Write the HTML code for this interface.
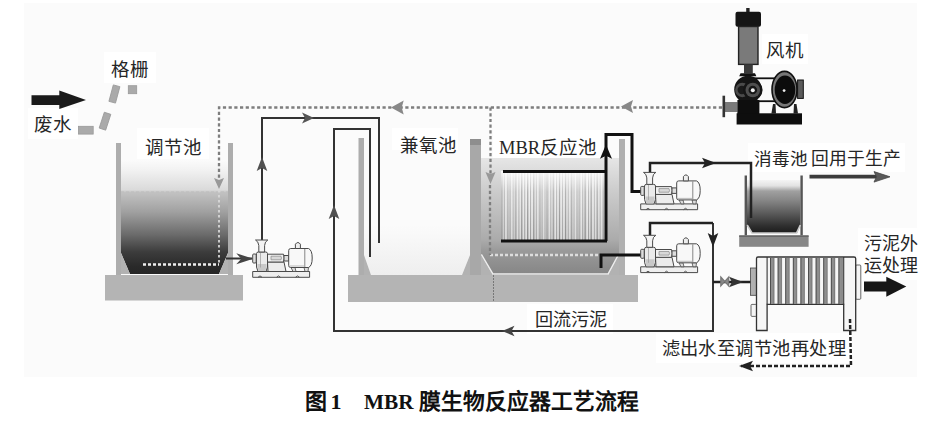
<!DOCTYPE html>
<html lang="zh-CN"><head><meta charset="utf-8">
<style>
html,body{margin:0;padding:0;background:#fff;}
body{width:932px;height:422px;overflow:hidden;}
svg{display:block;}
text{font-family:"Liberation Serif",serif;font-size:18.5px;fill:#262626;}
.cap{font-family:"Liberation Sans",sans-serif;font-weight:bold;font-size:22px;fill:#111;}
.capm{font-family:"Liberation Serif",serif;font-weight:bold;font-size:22px;fill:#111;}
</style></head><body>
<svg width="932" height="422" viewBox="0 0 932 422">
<defs>
 <linearGradient id="gT1" gradientUnits="userSpaceOnUse" x1="0" y1="160" x2="0" y2="274">
  <stop offset="0" stop-color="#fbfbfb"/>
  <stop offset="0.088" stop-color="#f2f2f2"/>
  <stop offset="0.175" stop-color="#e6e6e6"/>
  <stop offset="0.263" stop-color="#dadada"/>
  <stop offset="0.285" stop-color="#c2c2c2"/>
  <stop offset="0.456" stop-color="#a0a0a0"/>
  <stop offset="0.658" stop-color="#6a6a6a"/>
  <stop offset="0.807" stop-color="#3c3c3c"/>
  <stop offset="0.93" stop-color="#2a2a2a"/>
  <stop offset="1" stop-color="#262626"/>
 </linearGradient>
 <linearGradient id="gMBR" gradientUnits="userSpaceOnUse" x1="0" y1="158" x2="0" y2="275">
  <stop offset="0" stop-color="#e6e6e6"/>
  <stop offset="0.27" stop-color="#cdcdcd"/>
  <stop offset="0.7" stop-color="#ababab"/>
  <stop offset="0.79" stop-color="#9a9a9a"/>
  <stop offset="1" stop-color="#858585"/>
 </linearGradient>
 <linearGradient id="gXD" gradientUnits="userSpaceOnUse" x1="0" y1="180" x2="0" y2="233">
  <stop offset="0" stop-color="#f4f4f4"/>
  <stop offset="0.11" stop-color="#e2e2e2"/>
  <stop offset="0.21" stop-color="#a0a0a0"/>
  <stop offset="0.38" stop-color="#878787"/>
  <stop offset="0.66" stop-color="#555"/>
  <stop offset="0.87" stop-color="#2e2e2e"/>
  <stop offset="1" stop-color="#1c1c1c"/>
 </linearGradient>
 <linearGradient id="gJY" gradientUnits="userSpaceOnUse" x1="0" y1="225" x2="0" y2="275">
  <stop offset="0" stop-color="#fbfbfb"/>
  <stop offset="1" stop-color="#eeeeee"/>
 </linearGradient>
 <linearGradient id="gMem" x1="0" y1="0" x2="0" y2="1">
  <stop offset="0" stop-color="#fff" stop-opacity="0.9"/>
  <stop offset="0.3" stop-color="#fff" stop-opacity="0.3"/>
  <stop offset="1" stop-color="#fff" stop-opacity="0"/>
 </linearGradient>
 <linearGradient id="gSil" x1="0" y1="0" x2="1" y2="0">
  <stop offset="0" stop-color="#444"/>
  <stop offset="0.5" stop-color="#777"/>
  <stop offset="1" stop-color="#3a3a3a"/>
 </linearGradient>
 <pattern id="pStripe" x="501" y="0" width="2.9" height="10" patternUnits="userSpaceOnUse">
  <rect x="0" y="0" width="2.9" height="10" fill="#f2f2f2"/>
  <rect x="0" y="0" width="1.1" height="10" fill="#a8a8a8"/>
 </pattern>
 <pattern id="pStripe2" x="502" y="0" width="6.3" height="10" patternUnits="userSpaceOnUse">
  <rect x="0" y="0" width="1.3" height="10" fill="#777" fill-opacity="0.45"/>
 </pattern>
 <linearGradient id="gMemD" x1="0" y1="0" x2="0" y2="1">
  <stop offset="0" stop-color="#000" stop-opacity="0"/>
  <stop offset="1" stop-color="#000" stop-opacity="0.08"/>
 </linearGradient>
</defs>

<rect x="24" y="3" width="893" height="374" fill="#fbfbfb"/>
<rect x="104" y="52" width="52" height="31" fill="#fff"/>
<rect x="28" y="108" width="50" height="31" fill="#fff"/>
<rect x="137" y="128" width="72" height="31" fill="#fff"/>
<rect x="392" y="128" width="66" height="32" fill="#fff"/>
<rect x="493" y="130" width="108" height="31" fill="#fff"/>
<rect x="762" y="34" width="46" height="30" fill="#fff"/>
<rect x="748" y="143" width="157" height="29" fill="#fff"/>
<rect x="858" y="228" width="62" height="52" fill="#fff"/>
<rect x="527" y="304" width="86" height="30" fill="#fff"/>
<rect x="656" y="333" width="196" height="30" fill="#fff"/>
<polygon points="121,160 228,160 228,253 219,274 130,274 121,253" fill="url(#gT1)"/>
<line x1="121" y1="192" x2="228" y2="192" stroke="#bdbdbd" stroke-width="1" stroke-dasharray="3 2"/>
<rect x="116" y="143" width="5" height="133" fill="#adadad"/>
<rect x="228" y="143" width="5" height="133" fill="#adadad"/>
<polygon points="121,253 130,274 121,274" fill="#b2b2b2"/>
<polygon points="228,253 219,274 228,274" fill="#b2b2b2"/>
<rect x="105" y="275" width="138" height="25.5" fill="#b4b4b4"/>
<polyline points="143,264.5 219,264.5" fill="none" stroke="#eee" stroke-width="2.5" stroke-dasharray="3 2"/>
<line x1="219" y1="190" x2="219" y2="263" stroke="#d8d8d8" stroke-width="1.8" stroke-dasharray="2.5 2.5"/>
<polygon points="364,150 470,150 470,255 462,275 371,275 364,255" fill="#fbfbfb"/>
<polygon points="364,225 470,225 470,255 462,275 371,275 364,255" fill="url(#gJY)"/>
<polygon points="481,158 619,158 619,254 608,275 493,275 481,254" fill="url(#gMBR)"/>
<rect x="358.5" y="138" width="5.5" height="140" fill="#adadad"/>
<rect x="470" y="139" width="11" height="139" fill="#a8a8a8"/>
<rect x="470" y="139" width="11" height="6" fill="#8e8e8e"/>
<rect x="619" y="139" width="6" height="139" fill="#b0b0b0"/>
<polygon points="364,255 371,275 364,275" fill="#b2b2b2"/>
<polygon points="470,255 462,275 470,275" fill="#b2b2b2"/>
<polygon points="481,254 493,275 481,275" fill="#b2b2b2"/>
<polygon points="619,254 608,275 619,275" fill="#b2b2b2"/>
<rect x="348" y="275" width="290" height="27" fill="#b4b4b4"/>
<line x1="493.5" y1="275" x2="493.5" y2="302" stroke="#777" stroke-width="1" stroke-dasharray="2 1"/>
<line x1="490" y1="255" x2="599" y2="255" stroke="#ddd" stroke-width="2.5" stroke-dasharray="3 2"/>
<polyline points="481.5,254.5 493,274 608,274 618.5,254.5" fill="none" stroke="#eee" stroke-width="1.4"/>
<rect x="501" y="171" width="105" height="70" fill="url(#pStripe)"/>
<rect x="501" y="171" width="105" height="70" fill="url(#pStripe2)"/>
<rect x="501" y="171" width="105" height="70" fill="url(#gMem)"/>
<rect x="501" y="171" width="105" height="70" fill="url(#gMemD)"/>
<line x1="503" y1="171.5" x2="606" y2="171.5" stroke="#111" stroke-width="3"/>
<line x1="501" y1="241" x2="607" y2="241" stroke="#111" stroke-width="3"/>
<polygon points="747,180 800.5,180 800.5,225 797,233 752,233 747,225" fill="url(#gXD)"/>
<rect x="744.6" y="175.5" width="2.4" height="60" fill="#555"/>
<rect x="800.4" y="175.5" width="2.4" height="60" fill="#555"/>
<polyline points="747.2,225 752,233 796.5,233 800.3,225" fill="none" stroke="#ccc" stroke-width="1.6"/>
<rect x="739.2" y="235.4" width="69.4" height="11.4" fill="#878787"/>
<rect x="739.2" y="235.4" width="69.4" height="1.6" fill="#666"/>
<g fill="none" stroke="#333" stroke-width="2">
 <polyline points="262,240 262,118 379,118 379,243"/>
 <polyline points="713,223 713,331 334,331 334,129 370,129 370,257"/>
 <line x1="226" y1="258.5" x2="252" y2="258.5"/>
</g>
<g fill="none" stroke="#111" stroke-width="3">
 <polyline points="606,241 606,134.5 632,134.5 632,191.5 643,191.5"/>
 <polyline points="601,268 601,255 641,255"/>
</g>
<g fill="none" stroke="#222" stroke-width="2.5">
 <polyline points="650,172.5 650,163 751,163 751,218"/>
 <polyline points="650,235.5 650,223 713,223"/>
 <polyline points="713,282 751,282"/>
</g>
<g fill="none" stroke="#7e7e7e" stroke-width="2.3" stroke-dasharray="3.2 2.5">
 <polyline points="722,107.5 219,107.5 219,180"/>
 <line x1="490.5" y1="107.5" x2="490.5" y2="175"/>
 <line x1="490" y1="185" x2="490" y2="255"/>
</g>

<path d="M262.0,157.0 L267.3,171.0 L262.0,168.0 L256.7,171.0 Z" fill="#505050"/>
<path d="M314.0,118.0 L302.0,123.5 L305.0,118.0 L302.0,112.5 Z" fill="#555"/>
<path d="M334.0,205.0 L339.3,219.0 L334.0,216.0 L328.7,219.0 Z" fill="#505050"/>
<path d="M502.0,331.0 L514.5,325.8 L511.5,331.0 L514.5,336.2 Z" fill="#444"/>
<path d="M606.0,144.5 L612.0,158.8 L606.0,155.8 L600.0,158.8 Z" fill="#111"/>
<path d="M716.0,163.0 L702.0,168.3 L705.0,163.0 L702.0,157.7 Z" fill="#222"/>
<path d="M713.0,247.0 L707.7,233.0 L713.0,236.0 L718.3,233.0 Z" fill="#222"/>
<path d="M743.0,282.0 L729.0,287.3 L732.0,282.0 L729.0,276.7 Z" fill="#333"/>
<path d="M739.0,366.0 L753.0,360.7 L750.0,366.0 L753.0,371.3 Z" fill="#222"/>
<path d="M253.3,258.8 L236.3,264.3 L241.3,258.8 L236.3,253.3 Z" fill="#444"/>
<path d="M391.0,107.4 L403.7,100.4 L401.7,107.4 L403.7,114.4 Z" fill="#888"/>
<path d="M621.0,106.6 L633.0,100.1 L631.0,106.6 L633.0,113.1 Z" fill="#888"/>
<path d="M219.0,189.0 L214.0,178.0 L219.0,180.0 L224.0,178.0 Z" fill="#999"/>
<path d="M490.5,184.0 L485.5,172.0 L490.5,174.0 L495.5,172.0 Z" fill="#999"/>
<line x1="809.5" y1="176.6" x2="877" y2="176.6" stroke="#3c3c3c" stroke-width="3.6"/>
<path d="M890.0,176.8 L874.0,182.1 L876.5,176.8 L874.0,171.6 Z" fill="#5a5a5a" stroke="#444" stroke-width="0.8" stroke-linejoin="round"/>
<path d="M31.5,95.2 L59.3,95.2 L59.3,90.4 L86,100 L59.3,109 L59.3,105.1 L31.5,105.1 Z" fill="#1a1a1a"/>
<path d="M864,281.6 L886.3,281.6 L886.3,276.8 L906.3,286.6 L886.3,296.8 L886.3,291.5 L864,291.5 Z" fill="#161616"/>
<rect x="78.5" y="126.3" width="14.7" height="7.8" fill="#aaa" stroke="#999" stroke-width="0.8"/>
<rect x="-3.4" y="-8.3" width="6.8" height="16.6" fill="#aaa" stroke="#999" stroke-width="0.8" transform="translate(105,121.2) rotate(18)"/>
<rect x="-3.4" y="-8.5" width="6.8" height="17" fill="#aaa" stroke="#999" stroke-width="0.8" transform="translate(114.4,94) rotate(15)"/>
<rect x="128.3" y="85.7" width="8.4" height="8" fill="#aaa" stroke="#999" stroke-width="0.8"/>
<g transform="translate(262,240)" fill="#f7f7f7" stroke="#4a4a4a" stroke-width="1" stroke-linejoin="round"><path d="M-9.3,31.5 L47.6,31.5 L47.6,37.3 L-9.3,37.3 Z" fill="#efefef"/><path d="M-4,37.3 Q-2,34.5 0,37.3 M14.5,37.3 Q16.5,34.5 18.5,37.3 M33.5,37.3 Q35.5,34.5 37.5,37.3" fill="none" stroke="#555"/><path d="M29,27.5 L31,31.5 L34,31.5 L33,27.5 Z M42,27.5 L43,31.5 L46,31.5 L46.5,27.5 Z" fill="#ddd" stroke-width="0.8"/><path d="M5.5,22 L22,22 L24,31.5 L6,31.5 Z" fill="#ececec"/><path d="M5.5,14.2 L21.5,14.2 Q23,18 21.5,22 L5.5,22 Z" fill="#f0f0f0"/><path d="M9,16.2 L19,16.2 Q20,18 19,19.8 L9,19.8 Z" fill="#d8d8d8" stroke="#888" stroke-width="0.7"/><rect x="22" y="15.5" width="4.8" height="5.5" fill="#ddd"/><path d="M26.7,10.5 Q26.7,8.5 28.7,8.5 L46.5,8.5 Q50.2,10 50.2,18 Q50.2,26 46.5,27.5 L28.7,27.5 Q26.7,27.5 26.7,25.5 Z" fill="#f8f8f8"/><line x1="42.8" y1="9" x2="42.8" y2="27" stroke="#777" stroke-width="0.9"/><line x1="27.5" y1="26" x2="42.5" y2="26" stroke="#aaa" stroke-width="0.8"/><path d="M33.4,8.5 L33.4,4.2 Q35.9,0.8 38.4,4.2 L38.4,8.5 Z" fill="#eee"/><path d="M-5.5,13.5 Q-5.5,12 -3.5,12 L3.5,12 Q5.5,12 5.5,13.5 L5.5,27 L4,31.5 L-4,31.5 L-5.5,27 Z" fill="#eaeaea"/><path d="M-4.5,24 L4.5,24 L4.5,27 L3.4,31 L-3.4,31 L-4.5,27 Z" fill="#c8c8c8" stroke="none"/><line x1="-1.5" y1="12.5" x2="-1.5" y2="27.5" stroke="#999" stroke-width="0.7"/><path d="M-6.5,0 L5.8,0 Q2.8,1.5 2.6,5.5 L2.6,12 L-3.2,12 L-3.2,5.5 Q-3.5,1.5 -6.5,0 Z" fill="#f3f3f3"/><rect x="-9.3" y="14" width="3.5" height="9" rx="1" fill="#ddd"/></g>
<g transform="translate(650,172.4)" fill="#f7f7f7" stroke="#4a4a4a" stroke-width="1" stroke-linejoin="round"><path d="M-9.3,31.5 L47.6,31.5 L47.6,37.3 L-9.3,37.3 Z" fill="#efefef"/><path d="M-4,37.3 Q-2,34.5 0,37.3 M14.5,37.3 Q16.5,34.5 18.5,37.3 M33.5,37.3 Q35.5,34.5 37.5,37.3" fill="none" stroke="#555"/><path d="M29,27.5 L31,31.5 L34,31.5 L33,27.5 Z M42,27.5 L43,31.5 L46,31.5 L46.5,27.5 Z" fill="#ddd" stroke-width="0.8"/><path d="M5.5,22 L22,22 L24,31.5 L6,31.5 Z" fill="#ececec"/><path d="M5.5,14.2 L21.5,14.2 Q23,18 21.5,22 L5.5,22 Z" fill="#f0f0f0"/><path d="M9,16.2 L19,16.2 Q20,18 19,19.8 L9,19.8 Z" fill="#d8d8d8" stroke="#888" stroke-width="0.7"/><rect x="22" y="15.5" width="4.8" height="5.5" fill="#ddd"/><path d="M26.7,10.5 Q26.7,8.5 28.7,8.5 L46.5,8.5 Q50.2,10 50.2,18 Q50.2,26 46.5,27.5 L28.7,27.5 Q26.7,27.5 26.7,25.5 Z" fill="#f8f8f8"/><line x1="42.8" y1="9" x2="42.8" y2="27" stroke="#777" stroke-width="0.9"/><line x1="27.5" y1="26" x2="42.5" y2="26" stroke="#aaa" stroke-width="0.8"/><path d="M33.4,8.5 L33.4,4.2 Q35.9,0.8 38.4,4.2 L38.4,8.5 Z" fill="#eee"/><path d="M-5.5,13.5 Q-5.5,12 -3.5,12 L3.5,12 Q5.5,12 5.5,13.5 L5.5,27 L4,31.5 L-4,31.5 L-5.5,27 Z" fill="#eaeaea"/><path d="M-4.5,24 L4.5,24 L4.5,27 L3.4,31 L-3.4,31 L-4.5,27 Z" fill="#c8c8c8" stroke="none"/><line x1="-1.5" y1="12.5" x2="-1.5" y2="27.5" stroke="#999" stroke-width="0.7"/><path d="M-6.5,0 L5.8,0 Q2.8,1.5 2.6,5.5 L2.6,12 L-3.2,12 L-3.2,5.5 Q-3.5,1.5 -6.5,0 Z" fill="#f3f3f3"/><rect x="-9.3" y="14" width="3.5" height="9" rx="1" fill="#ddd"/></g>
<g transform="translate(650,235.3)" fill="#f7f7f7" stroke="#4a4a4a" stroke-width="1" stroke-linejoin="round"><path d="M-9.3,31.5 L47.6,31.5 L47.6,37.3 L-9.3,37.3 Z" fill="#efefef"/><path d="M-4,37.3 Q-2,34.5 0,37.3 M14.5,37.3 Q16.5,34.5 18.5,37.3 M33.5,37.3 Q35.5,34.5 37.5,37.3" fill="none" stroke="#555"/><path d="M29,27.5 L31,31.5 L34,31.5 L33,27.5 Z M42,27.5 L43,31.5 L46,31.5 L46.5,27.5 Z" fill="#ddd" stroke-width="0.8"/><path d="M5.5,22 L22,22 L24,31.5 L6,31.5 Z" fill="#ececec"/><path d="M5.5,14.2 L21.5,14.2 Q23,18 21.5,22 L5.5,22 Z" fill="#f0f0f0"/><path d="M9,16.2 L19,16.2 Q20,18 19,19.8 L9,19.8 Z" fill="#d8d8d8" stroke="#888" stroke-width="0.7"/><rect x="22" y="15.5" width="4.8" height="5.5" fill="#ddd"/><path d="M26.7,10.5 Q26.7,8.5 28.7,8.5 L46.5,8.5 Q50.2,10 50.2,18 Q50.2,26 46.5,27.5 L28.7,27.5 Q26.7,27.5 26.7,25.5 Z" fill="#f8f8f8"/><line x1="42.8" y1="9" x2="42.8" y2="27" stroke="#777" stroke-width="0.9"/><line x1="27.5" y1="26" x2="42.5" y2="26" stroke="#aaa" stroke-width="0.8"/><path d="M33.4,8.5 L33.4,4.2 Q35.9,0.8 38.4,4.2 L38.4,8.5 Z" fill="#eee"/><path d="M-5.5,13.5 Q-5.5,12 -3.5,12 L3.5,12 Q5.5,12 5.5,13.5 L5.5,27 L4,31.5 L-4,31.5 L-5.5,27 Z" fill="#eaeaea"/><path d="M-4.5,24 L4.5,24 L4.5,27 L3.4,31 L-3.4,31 L-4.5,27 Z" fill="#c8c8c8" stroke="none"/><line x1="-1.5" y1="12.5" x2="-1.5" y2="27.5" stroke="#999" stroke-width="0.7"/><path d="M-6.5,0 L5.8,0 Q2.8,1.5 2.6,5.5 L2.6,12 L-3.2,12 L-3.2,5.5 Q-3.5,1.5 -6.5,0 Z" fill="#f3f3f3"/><rect x="-9.3" y="14" width="3.5" height="9" rx="1" fill="#ddd"/></g>
<g>
<rect x="746.2" y="8" width="3.4" height="4.5" fill="#222"/>
<rect x="735.5" y="11.7" width="25.5" height="15" rx="2" fill="#151515"/>
<rect x="738.6" y="26.5" width="19.4" height="37.9" fill="#7a7a7a" stroke="#222" stroke-width="1.4"/>
<rect x="744" y="64.4" width="8.8" height="9" fill="#3a3a3a"/>
<path d="M739.2,76.3 L740.5,73.3 L755,73.3 L756.4,76.3 Z" fill="#111"/>
<path d="M724,102 L737.5,102 L737.5,112 L724,112 Z" fill="#7a7a7a"/>
<rect x="722.5" y="95.7" width="2.6" height="21.5" fill="#333"/>
<line x1="753" y1="78.3" x2="784" y2="78.3" stroke="#111" stroke-width="1.8"/>
<line x1="753" y1="101.2" x2="784" y2="101.2" stroke="#111" stroke-width="1.8"/>
<circle cx="748" cy="89.6" r="13.8" fill="#151515"/>
<circle cx="742.3" cy="90" r="7.2" fill="#4a4a4a"/>
<circle cx="741.8" cy="90" r="4.2" fill="#1a1a1a"/>
<circle cx="752.8" cy="90" r="9.8" fill="#151515"/>
<circle cx="752.8" cy="90" r="7.3" fill="#4e4e4e"/>
<circle cx="752.8" cy="90" r="4.3" fill="#151515"/>
<circle cx="752.8" cy="90.3" r="2" fill="#f0f0f0"/>
<rect x="737.4" y="100" width="22" height="14" fill="#0e0e0e"/>
<rect x="797.6" y="80" width="5.7" height="18.4" fill="#5a5a5a" stroke="#111" stroke-width="1"/>
<path d="M771.4,113.5 L773,104 L775.5,104 L776,113.5 Z M793.5,113.5 L794,104 L796.5,104 L798,113.5 Z" fill="#222"/>
<ellipse cx="784.5" cy="89.5" rx="12.5" ry="18.1" fill="#777" stroke="#111" stroke-width="1.6"/>
<ellipse cx="785" cy="89.8" rx="10.3" ry="14.2" fill="#0c0c0c"/>
<circle cx="784.1" cy="90.6" r="1.4" fill="#eee"/>
<rect x="736.6" y="113.3" width="65.4" height="11.2" fill="#0e0e0e"/>
</g>
<g><rect x="750.6" y="268" width="5.8" height="27.3" fill="#b0b0b0" stroke="#444" stroke-width="0.8"/><rect x="751" y="304.4" width="5.5" height="12" rx="1" fill="#f4f4f4" stroke="#444" stroke-width="0.8"/><rect x="855.7" y="265" width="5.1" height="34.3" rx="1" fill="#f4f4f4" stroke="#444" stroke-width="0.8"/><path d="M756.5,330.5 L756.5,258.5 Q756.5,257 758,257 L854,257 Q855.7,257 855.7,258.5 L855.7,330.5 L843.7,330.5 L843.7,304.4 L767.1,304.4 L767.1,330.5 Z" fill="#f6f6f6" stroke="#333" stroke-width="1.3"/><line x1="767.1" y1="257" x2="767.1" y2="304.4" stroke="#333" stroke-width="1.1"/><line x1="843.7" y1="257" x2="843.7" y2="304.4" stroke="#333" stroke-width="1.1"/><rect x="770.2" y="258" width="4" height="46" fill="#8e8e8e"/><line x1="770.5" y1="258" x2="770.5" y2="304" stroke="#444" stroke-width="0.9"/><line x1="774.0" y1="258" x2="774.0" y2="304" stroke="#666" stroke-width="0.6"/><rect x="777.8" y="258" width="4" height="46" fill="#8e8e8e"/><line x1="778.1" y1="258" x2="778.1" y2="304" stroke="#444" stroke-width="0.9"/><line x1="781.6" y1="258" x2="781.6" y2="304" stroke="#666" stroke-width="0.6"/><rect x="785.4" y="258" width="4" height="46" fill="#8e8e8e"/><line x1="785.7" y1="258" x2="785.7" y2="304" stroke="#444" stroke-width="0.9"/><line x1="789.2" y1="258" x2="789.2" y2="304" stroke="#666" stroke-width="0.6"/><rect x="793.0" y="258" width="4" height="46" fill="#8e8e8e"/><line x1="793.3" y1="258" x2="793.3" y2="304" stroke="#444" stroke-width="0.9"/><line x1="796.8" y1="258" x2="796.8" y2="304" stroke="#666" stroke-width="0.6"/><rect x="800.6" y="258" width="4" height="46" fill="#8e8e8e"/><line x1="800.9" y1="258" x2="800.9" y2="304" stroke="#444" stroke-width="0.9"/><line x1="804.4" y1="258" x2="804.4" y2="304" stroke="#666" stroke-width="0.6"/><rect x="808.2" y="258" width="4" height="46" fill="#8e8e8e"/><line x1="808.5" y1="258" x2="808.5" y2="304" stroke="#444" stroke-width="0.9"/><line x1="812.0" y1="258" x2="812.0" y2="304" stroke="#666" stroke-width="0.6"/><rect x="815.8" y="258" width="4" height="46" fill="#8e8e8e"/><line x1="816.1" y1="258" x2="816.1" y2="304" stroke="#444" stroke-width="0.9"/><line x1="819.6" y1="258" x2="819.6" y2="304" stroke="#666" stroke-width="0.6"/><rect x="823.4" y="258" width="4" height="46" fill="#8e8e8e"/><line x1="823.7" y1="258" x2="823.7" y2="304" stroke="#444" stroke-width="0.9"/><line x1="827.2" y1="258" x2="827.2" y2="304" stroke="#666" stroke-width="0.6"/><rect x="831.0" y="258" width="4" height="46" fill="#8e8e8e"/><line x1="831.3" y1="258" x2="831.3" y2="304" stroke="#444" stroke-width="0.9"/><line x1="834.8" y1="258" x2="834.8" y2="304" stroke="#666" stroke-width="0.6"/><rect x="838.6" y="258" width="4" height="46" fill="#8e8e8e"/><line x1="838.9" y1="258" x2="838.9" y2="304" stroke="#444" stroke-width="0.9"/><line x1="842.4" y1="258" x2="842.4" y2="304" stroke="#666" stroke-width="0.6"/></g>
<polyline points="850,319 851,366 741,366" fill="none" stroke="#222" stroke-width="2.5" stroke-dasharray="4 2"/>
<path d="M720.8,277 L728.7,286 L728.7,277 L720.8,286 Z" fill="#888" stroke="#777" stroke-width="1.2"/>
<text x="111" y="76">格栅</text>
<text x="34" y="131">废水</text>
<text x="145" y="153.5">调节池</text>
<text x="400" y="152">兼氧池</text>
<text x="499" y="154">MBR反应池</text>
<text x="766" y="57">风机</text>
<text x="754" y="164.5" style="font-size:17.6px">消毒池</text>
<text x="811" y="164.5" style="font-size:17.8px">回用于生产</text>
<text x="863.5" y="250" style="font-size:18px">污泥外</text>
<text x="863.5" y="272" style="font-size:18px">运处理</text>
<text x="534.5" y="326" style="font-size:18.1px">回流污泥</text>
<text x="661.5" y="355" style="font-size:18.3px" textLength="184">滤出水至调节池再处理</text>
<text class="cap" x="305" y="409">图</text>
<text class="capm" x="330.5" y="409">1</text>
<text class="capm" x="364" y="409" textLength="49.5" lengthAdjust="spacingAndGlyphs">MBR</text>
<text class="cap" x="419" y="409" style="font-size:21.8px">膜生物反应器工艺流程</text>
</svg>
</body></html>
